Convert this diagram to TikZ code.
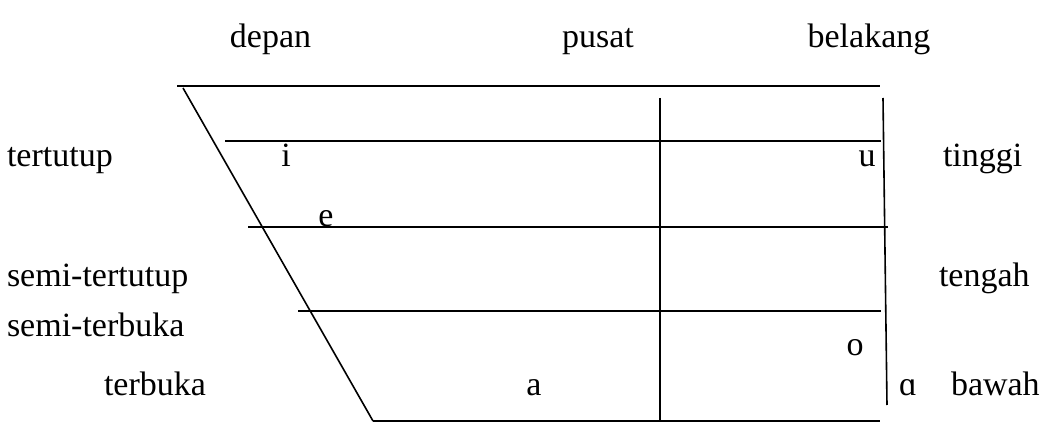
\documentclass[tikz,border=0pt]{standalone}
\usepackage{fontspec}
\setmainfont{Liberation Serif}
\begin{document}
\begin{tikzpicture}[x=1pt,y=-1pt,
  lbl/.style={inner sep=0pt,outer sep=0pt,font=\fontsize{34}{40}\selectfont},
  ln/.style={line width=1.6pt,black}]
\useasboundingbox (0,0) rectangle (1061,425);
% header
\node[lbl,anchor=base] (hdepan) at (270.5,48) {depan};
\node[lbl,anchor=base] (hpusat) at (598,48) {pusat};
\node[lbl,anchor=base] (hbel) at (869,48) {belakang};
% left labels
\node[lbl,anchor=base west] (ltt) at (7,167) {tertutup};
\node[lbl,anchor=base west] (lst) at (7,286) {semi-tertutup};
\node[lbl,anchor=base west] (lsb) at (7,336) {semi-terbuka};
\node[lbl,anchor=base west] (ltb) at (104,395) {terbuka};
% right labels
\node[lbl,anchor=base west] (rti) at (943,167) {tinggi};
\node[lbl,anchor=base west] (rte) at (939,286) {tengah};
\node[lbl,anchor=base west] (rba) at (951,395) {bawah};
% vowels
\node[lbl,anchor=base] (vi) at (286,167) {i};
\node[lbl,anchor=base] (vu) at (867,167) {u};
\node[lbl,anchor=base] (ve) at (326,226) {e};
\node[lbl,anchor=base] (vo) at (855,355) {o};
\node[lbl,anchor=base] (va) at (534,395) {a};
\node[lbl,anchor=base] (valpha) at (908,395) {ɑ};
% chart lines
\coordinate (tl) at (177,86);
\coordinate (tr) at (880,86);
\coordinate (sA) at (183,88);
\coordinate (sB) at (373,421);
\coordinate (l1a) at (225,141);
\coordinate (l1b) at (881,141);
\coordinate (l2a) at (248,227);
\coordinate (l2b) at (888,227);
\coordinate (l3a) at (298,311);
\coordinate (l3b) at (881,311);
\coordinate (bl) at (373,421);
\coordinate (br) at (880,421);
\coordinate (cT) at (660,98);
\coordinate (cB) at (660,421);
\coordinate (rT) at (883,98);
\coordinate (rB) at (887,405);
\draw[ln] (tl) -- (tr);
\draw[ln] (sA) -- (sB);
\draw[ln] (l1a) -- (l1b);
\draw[ln] (l2a) -- (l2b);
\draw[ln] (l3a) -- (l3b);
\draw[ln] (bl) -- (br);
\draw[ln] (cT) -- (cB);
\draw[ln] (rT) -- (rB);
\end{tikzpicture}
\end{document}
